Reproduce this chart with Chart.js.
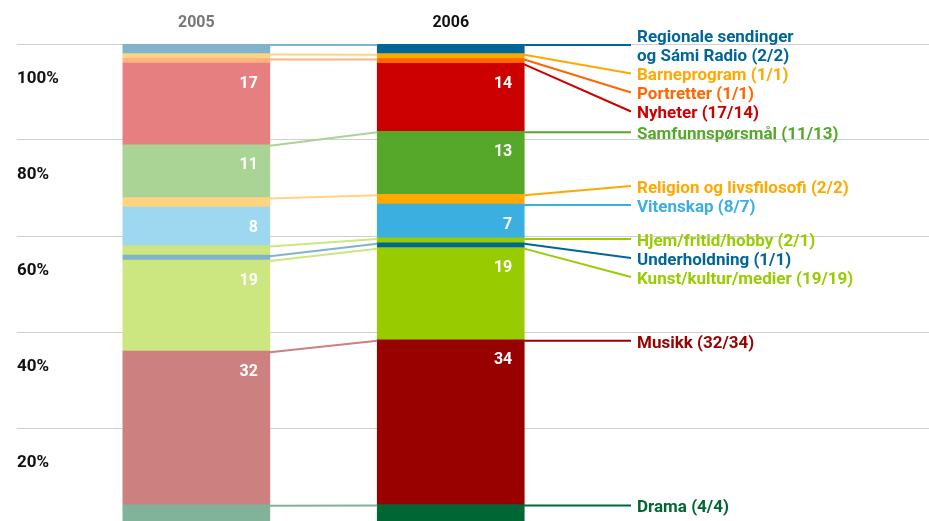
<!DOCTYPE html>
<html>
<head>
<meta charset="utf-8">
<script src="https://cdn.jsdelivr.net/npm/chart.js@4.4.1/dist/chart.umd.min.js"></script>
<style>
  html, body { margin: 0; padding: 0; background: #fff; }
  #wrap { width: 929px; height: 521px; position: relative; }
</style>
</head>
<body>
<div id="wrap"><canvas id="chart"></canvas></div>
<script>
const years = ['2005', '2006'];

// programme categories, from the bottom of the stack upwards
const categories = [
  'Drama', 'Musikk', 'Kunst/kultur/medier', 'Underholdning', 'Hjem/fritid/hobby',
  'Vitenskap', 'Religion og livsfilosofi', 'Samfunnspørsmål', 'Nyheter',
  'Portretter', 'Barneprogram', 'Regionale sendinger\nog Sámi Radio',
];
const share2005 = [4, 32, 19, 1, 2, 8, 2, 11, 17, 1, 1, 2];
const share2006 = [4, 34, 19, 1, 1, 7, 2, 13, 14, 1, 1, 2];
const yTicks = [20, 40, 60, 80, 100];

const palette = [
  '#006633', '#990000', '#99cc00', '#006699', '#99cc00',
  '#3bafe0', '#ffa800', '#55a82a', '#cc0000',
  '#ff6600', '#ffa800', '#006699',
];

const shares = [share2005, share2006];
const totals = shares.map(s => s.reduce((a, b) => a + b, 0));

// previous year is drawn as a half tint of the same colour
function tint(hex, amount = 0.5) {
  const n = parseInt(hex.slice(1), 16);
  const mix = c => Math.round(c + (255 - c) * amount);
  return `rgb(${mix(n >> 16)},${mix((n >> 8) & 255)},${mix(n & 255)})`;
}

const font = (size) => ({ family: 'Roboto', weight: 'bold', size });

const segmentLinks = {
  id: 'segmentLinks',
  afterDatasetsDraw(chart, args, opts) {
    const { ctx } = chart;
    const metas = chart.data.datasets.map((_, i) => chart.getDatasetMeta(i));
    ctx.save();

    // bridges between the two bars, along each segment's top edge
    ctx.lineWidth = 2;
    metas.forEach((meta, i) => {
      if (opts.unbridged.includes(categories[i])) return;
      const [a, b] = meta.data;
      ctx.strokeStyle = tint(palette[i]);
      ctx.beginPath();
      ctx.moveTo(a.x + a.width / 2, a.y + 1);
      ctx.lineTo(b.x - b.width / 2, b.y + 1);
      ctx.stroke();
    });

    // values inside the larger segments
    ctx.fillStyle = '#fff';
    ctx.font = `bold 16px Roboto`;
    ctx.textAlign = 'right';
    ctx.textBaseline = 'middle';
    metas.forEach((meta, i) => {
      meta.data.forEach((bar, j) => {
        const v = shares[j][i];
        if (v < 5) return;
        ctx.fillText(String(v), bar.x + bar.width / 2 - 12, bar.y + 20.5);
      });
    });

    // leader lines and names on the right, spread apart where they crowd
    const lh = opts.lineHeight;
    const items = metas.map((meta, i) => {
      const b = meta.data[1];
      return {
        i, from: b.y + 1, y: b.y + 1, bx: b.x + b.width / 2,
        lines: categories[i].split('\n'),
        pinned: opts.pinned.includes(categories[i]),
      };
    }).sort((p, q) => p.from - q.from);

    const gap = (p, q) => (p.lines.length + q.lines.length) * lh / 2;
    for (let k = 1; k < items.length; k++) {
      const it = items[k];
      if (!it.pinned) it.y = Math.max(it.y, items[k - 1].y + gap(items[k - 1], it));
    }
    for (let k = items.length - 2; k >= 0; k--) {
      const it = items[k];
      if (!it.pinned) it.y = Math.min(it.y, items[k + 1].y - gap(it, items[k + 1]));
    }

    ctx.font = `bold 17px Roboto`;
    ctx.textAlign = 'left';
    items.forEach(it => {
      const col = palette[it.i];
      ctx.strokeStyle = col;
      ctx.beginPath();
      ctx.moveTo(it.bx, it.from);
      ctx.lineTo(opts.leaderEnd, it.y);
      ctx.stroke();

      ctx.fillStyle = col;
      const n = it.lines.length;
      it.lines.forEach((line, j) => {
        const text = j === n - 1
          ? `${line} (${share2005[it.i]}/${share2006[it.i]})`
          : line;
        ctx.fillText(text, opts.leaderEnd + 6, it.y + 2.5 + (j - (n - 1) / 2) * lh);
      });
    });

    ctx.restore();
  },
};

const noPadding = (scale) => {
  scale.paddingTop = 0; scale.paddingBottom = 0;
  scale.paddingLeft = 0; scale.paddingRight = 0;
};

new Chart(document.getElementById('chart'), {
  type: 'bar',
  data: {
    datasets: categories.map((name, i) => ({
      label: name,
      data: years.map((_, j) => ({ x: j, y: shares[j][i] / totals[j] * 100 })),
      backgroundColor: [tint(palette[i]), palette[i]],
      borderWidth: 0,
      barThickness: 147,
    })),
  },
  plugins: [segmentLinks],
  options: {
    responsive: true,
    maintainAspectRatio: false,
    animation: false,
    events: [],
    layout: { padding: { left: 17, right: 0, top: 0, bottom: 0 } },
    plugins: {
      legend: { display: false },
      tooltip: { enabled: false },
      segmentLinks: {
        unbridged: ['Nyheter', 'Vitenskap'],
        pinned: ['Vitenskap'],
        lineHeight: 19,
        leaderEnd: 631,
      },
    },
    scales: {
      x: {
        type: 'linear',
        position: 'top',
        stacked: true,
        offset: false,
        // year 0 and 1 land on the two bar centres, leaving room for names at right
        min: -0.705,
        max: 2.88,
        afterBuildTicks: s => { s.ticks = years.map((_, i) => ({ value: i })); },
        afterFit: s => { s.height = 44; noPadding(s); },
        grid: { display: false, offset: false },
        border: { display: false },
        ticks: {
          padding: 3,
          font: font(16),
          color: c => (c.tick && c.tick.value === 0 ? '#777777' : '#111111'),
          callback: v => years[v],
        },
      },
      y: {
        stacked: true,
        // the canvas edge trims the bottom band just above zero
        min: 0.625,
        max: 100,
        afterBuildTicks: s => { s.ticks = yTicks.map(v => ({ value: v })); },
        afterFit: noPadding,
        grid: { color: '#cfcfcf', drawTicks: false },
        border: { display: false },
        ticks: {
          mirror: true,
          padding: 0,
          labelOffset: 35,
          color: '#111111',
          font: font(17),
          callback: v => v + '%',
        },
      },
    },
  },
});
</script>
</body>
</html>
